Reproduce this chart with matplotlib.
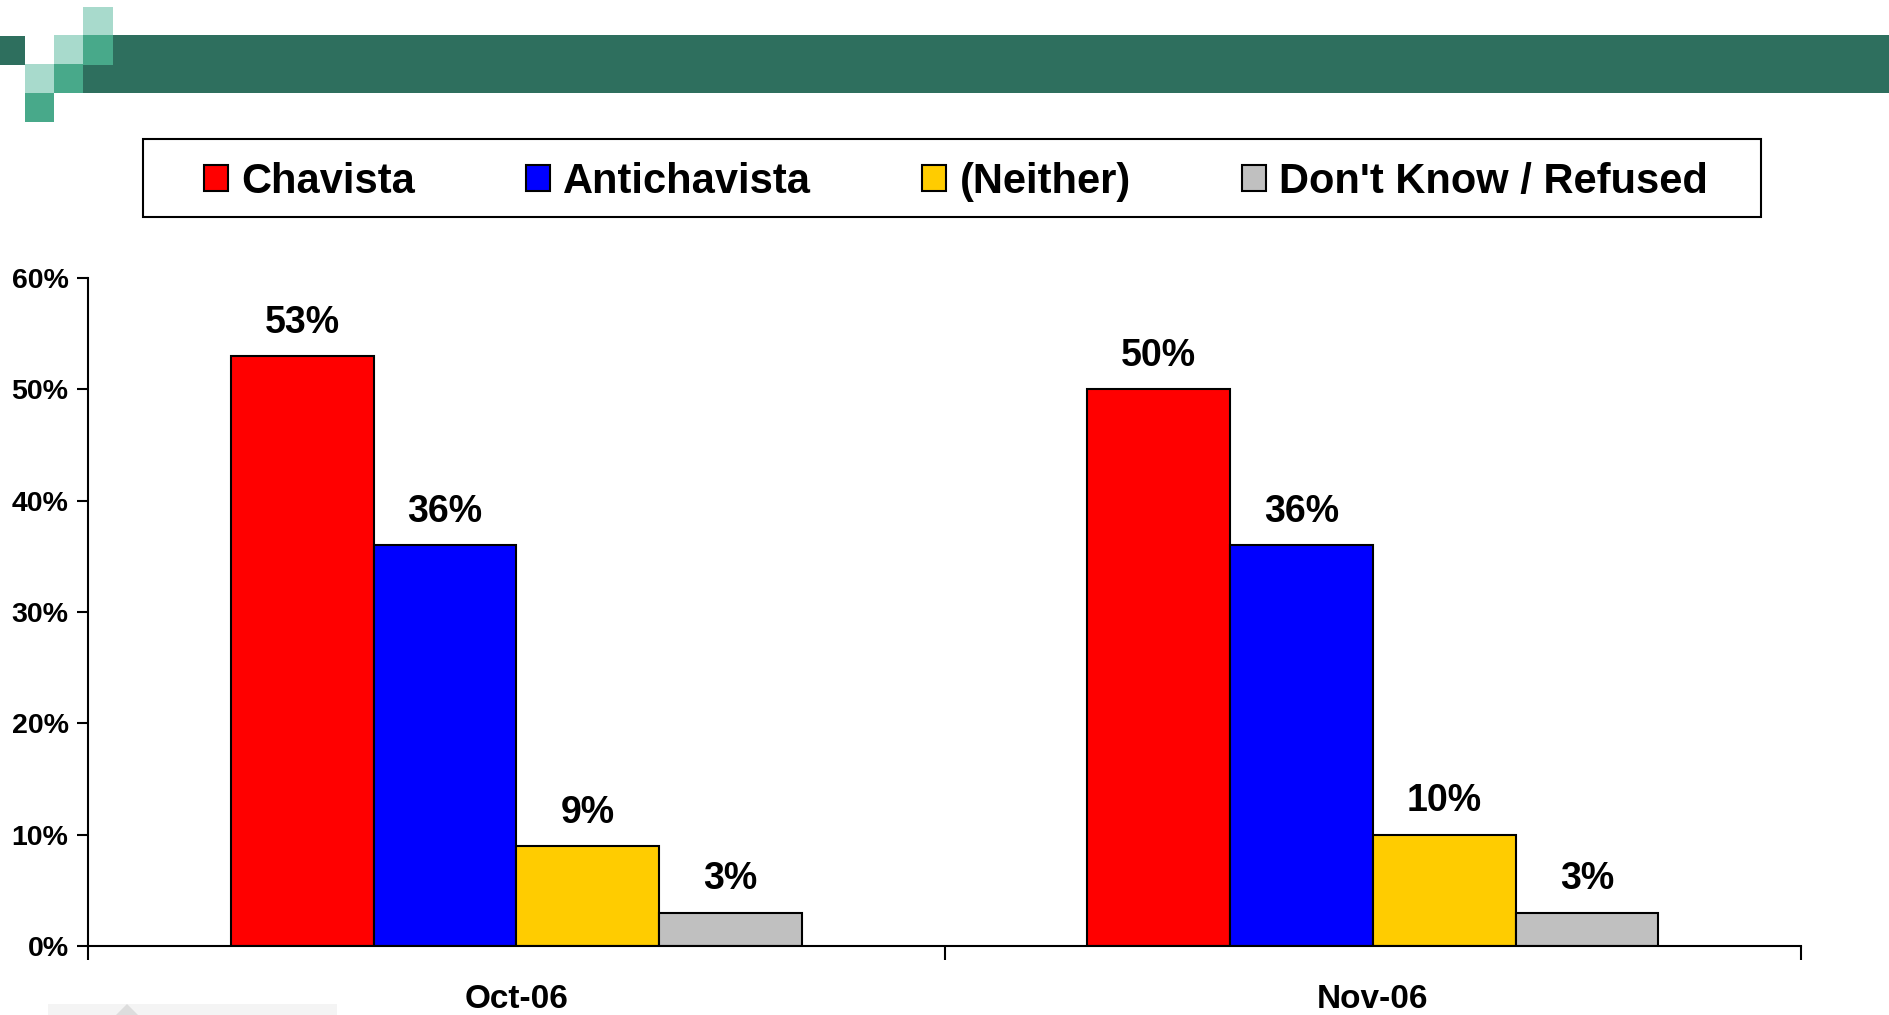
import numpy as np
import matplotlib.pyplot as plt
from matplotlib.patches import Rectangle, Polygon

plt.rcParams['font.family'] = ['Liberation Sans', 'DejaVu Sans']
plt.rcParams['font.weight'] = 'bold'

# data
months = ['Oct-06', 'Nov-06']
series = ['Chavista', 'Antichavista', '(Neither)', "Don't Know / Refused"]
chavista = [53, 50]
antichavista = [36, 36]
neither = [9, 10]
dont_know = [3, 3]
colors = ['#FF0000', '#0000FF', '#FFCC00', '#C0C0C0']
yticks = [0, 10, 20, 30, 40, 50, 60]

W, H = 1889, 1015
fig = plt.figure(figsize=(W / 100, H / 100), dpi=100)


def px_rect(x0, y0, x1, y1, color):
    # rectangle given in pixel coords (origin top-left)
    fig.add_artist(Rectangle((x0 / W, 1 - y1 / H), (x1 - x0) / W, (y1 - y0) / H,
                             transform=fig.transFigure, facecolor=color,
                             edgecolor='none', zorder=0))


# header decoration
dark, mid, light = '#2E6F5E', '#48A98A', '#A8DACC'
px_rect(113, 35, W, 65, dark)
px_rect(83, 65, W, 93, dark)
px_rect(0, 36, 25, 65, dark)
px_rect(83, 7, 113, 35, light)
px_rect(54, 35, 83, 64, light)
px_rect(83, 35, 113, 65, mid)
px_rect(25, 64, 54, 93, light)
px_rect(54, 64, 83, 93, mid)
px_rect(25, 93, 54, 122, mid)

# faint footer shape
px_rect(48, 1004, 337, H, '#F4F4F4')
fig.add_artist(Polygon([(116 / W, 1 - 1015 / H), (127 / W, 1 - 1004 / H), (138 / W, 1 - 1015 / H)],
                       transform=fig.transFigure, facecolor='#DDDDDD', edgecolor='none'))

# legend frame
px_rect(143, 139, 1761, 217, 'white')
fig.add_artist(Rectangle((143 / W, 1 - 217 / H), (1761 - 143) / W, (217 - 139) / H,
                         transform=fig.transFigure, facecolor='none',
                         edgecolor='black', linewidth=1.5))

ax = fig.add_axes([88 / W, 1 - 946 / H, (1801 - 88) / W, (946 - 278) / H])

x = np.arange(len(months))
bw = 1 / 6
values = [chavista, antichavista, neither, dont_know]
handles = []
for i, (vals, c) in enumerate(zip(values, colors)):
    pos = x + (i - 1.5) * bw
    b = ax.bar(pos, vals, bw, color=c, edgecolor='black', linewidth=1.5, label=series[i])
    handles.append(b)
    for p, v in zip(pos, vals):
        ax.annotate(f'{v}%', (p, v), xytext=(0, 11), textcoords='offset points',
                    ha='center', va='bottom', fontsize=27, fontweight='bold')

ax.set_xlim(-0.5, 1.5)
ax.set_ylim(0, 60)
ax.set_yticks(yticks)
ax.set_yticklabels([f'{t}%' for t in yticks], fontsize=20.5, fontweight='bold')
ax.set_xticks(x)
ax.set_xticklabels(months, fontsize=24, fontweight='bold')
ax.set_xticks([-0.5, 0.5, 1.5], minor=True)
ax.tick_params(axis='x', which='major', length=0, pad=27)
ax.tick_params(axis='x', which='minor', length=10, width=1.5, direction='out')
ax.tick_params(axis='y', length=8, width=1.5, direction='out', pad=6)
for s in ['top', 'right']:
    ax.spines[s].set_visible(False)
for s in ['left', 'bottom']:
    ax.spines[s].set_linewidth(1.5)

fig.legend(handles=handles, loc='center', bbox_to_anchor=(956 / W, 1 - 182 / H),
           ncol=4, frameon=False, prop={'size': 30, 'weight': 'bold'},
           handlelength=0.58, handleheight=0.58, handletextpad=0.32,
           columnspacing=2.66)

fig.savefig('out.png', dpi=100)
